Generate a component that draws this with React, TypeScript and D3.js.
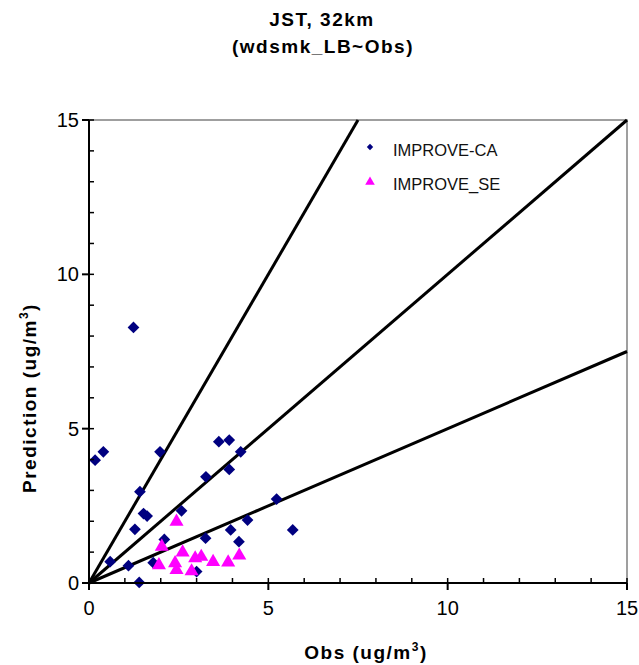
import React from "react";
import * as d3 from "d3";

// IMPROVE-CA sites: observed vs predicted (ug/m3)
const caObs = [0.17, 0.40, 1.24, 1.98, 3.62, 3.91, 4.23, 3.91, 3.26, 1.42, 1.52, 1.62, 2.58, 1.28, 2.10, 3.25, 3.95, 4.18, 4.42, 5.23, 5.68, 0.59, 1.10, 1.40, 1.79, 3.00];
const caPred = [3.98, 4.25, 8.28, 4.25, 4.58, 4.63, 4.25, 3.68, 3.44, 2.96, 2.25, 2.17, 2.34, 1.74, 1.41, 1.45, 1.72, 1.34, 2.04, 2.72, 1.72, 0.69, 0.56, 0.02, 0.66, 0.37];

// IMPROVE_SE sites
const seObs = [2.44, 2.03, 1.95, 2.40, 2.44, 2.61, 2.86, 2.96, 3.13, 3.46, 3.88, 4.19];
const sePred = [1.99, 1.18, 0.58, 0.64, 0.42, 0.99, 0.38, 0.80, 0.85, 0.68, 0.67, 0.89];

// Reference lines y = k·x (2:1, 1:1, 1:2)
const slopes = [2, 1, 0.5];

const axisMax = 15;
const majorTicks = [0, 5, 10, 15];
const minorTicks = d3.range(0, 16, 1);

const W = 639;
const H = 665;
const left = 89;
const right = 627;
const top = 120;
const bottom = 583;

const font = "Arial, 'Liberation Sans', Helvetica, sans-serif";

export default function App() {
  const x = d3.scaleLinear().domain([0, axisMax]).range([left, right]);
  const y = d3.scaleLinear().domain([0, axisMax]).range([bottom, top]);

  const diamond = d3.symbol().type(d3.symbolDiamond2).size(88)()!;
  const triangle = d3.symbol().type(d3.symbolTriangle).size(86)()!;
  const diamondSmall = d3.symbol().type(d3.symbolDiamond2).size(26)()!;
  const triangleSmall = d3.symbol().type(d3.symbolTriangle).size(40)()!;

  const lineFor = (k: number) => {
    const xEnd = Math.min(axisMax, axisMax / k);
    return d3.line<[number, number]>()
      .x((d) => x(d[0]))
      .y((d) => y(d[1]))([
      [0, 0],
      [xEnd, k * xEnd],
    ])!;
  };

  const boldText = { fontSize: 19, fontWeight: "bold" as const, letterSpacing: 1.5 };

  return (
    <svg
      width={W}
      height={H}
      style={{ position: "absolute", left: 0, top: 0, display: "block" }}
      fontFamily={font}
    >
      <rect x={0} y={0} width={W} height={H} fill="#fff" />

      {/* Title */}
      <text x={322} y={26} textAnchor="middle" {...boldText}>
        JST, 32km
      </text>
      <text x={323} y={53} textAnchor="middle" {...boldText}>
        (wdsmk_LB~Obs)
      </text>

      {/* Plot area border (top & right) */}
      <path
        d={`M${left},${top}H${right}V${bottom}`}
        fill="none"
        stroke="#808080"
        strokeWidth={1.5}
      />

      {/* Reference lines */}
      {slopes.map((k) => (
        <path key={k} d={lineFor(k)} fill="none" stroke="#000" strokeWidth={3} />
      ))}

      {/* Points */}
      {caObs.map((o, i) => (
        <path
          key={"ca" + i}
          d={diamond}
          transform={`translate(${x(o)},${y(caPred[i])})`}
          fill="#000080"
        />
      ))}
      {seObs.map((o, i) => (
        <path
          key={"se" + i}
          d={triangle}
          transform={`translate(${x(o)},${y(sePred[i])})`}
          fill="#FF00FF"
        />
      ))}

      {/* Axes */}
      <line x1={left} x2={right} y1={bottom} y2={bottom} stroke="#000" strokeWidth={2} />
      <line x1={left} x2={left} y1={top} y2={bottom} stroke="#000" strokeWidth={2} />
      {minorTicks.map((t) => (
        <g key={"m" + t}>
          <line x1={x(t)} x2={x(t)} y1={bottom} y2={bottom - 5} stroke="#000" strokeWidth={1.5} />
          <line x1={left} x2={left + 5} y1={y(t)} y2={y(t)} stroke="#000" strokeWidth={1.5} />
        </g>
      ))}
      {majorTicks.map((t) => (
        <g key={"M" + t}>
          <line x1={x(t)} x2={x(t)} y1={bottom} y2={bottom + 7} stroke="#000" strokeWidth={2} />
          <line x1={left - 7} x2={left} y1={y(t)} y2={y(t)} stroke="#000" strokeWidth={2} />
          <text x={x(t)} y={bottom + 32} textAnchor="middle" fontSize={20} fill="#000">
            {t}
          </text>
          <text x={left - 10} y={y(t) + 7} textAnchor="end" fontSize={20} fill="#000">
            {t}
          </text>
        </g>
      ))}

      {/* Axis titles */}
      <text x={366} y={659} textAnchor="middle" {...boldText}>
        Obs (ug/m<tspan dy={-8} fontSize={12}>3</tspan>
        <tspan dy={8}>)</tspan>
      </text>
      <text
        transform={`translate(36,398) rotate(-90)`}
        textAnchor="middle"
        {...boldText}
      >
        Prediction (ug/m<tspan dy={-8} fontSize={12}>3</tspan>
        <tspan dy={8}>)</tspan>
      </text>

      {/* Legend */}
      <path d={diamondSmall} transform="translate(370,147)" fill="#000080" />
      <text x={393} y={156} fontSize={16.5} fill="#111">IMPROVE-CA</text>
      <path d={triangleSmall} transform="translate(370,182)" fill="#FF00FF" />
      <text x={393} y={190} fontSize={16.5} fill="#111">IMPROVE_SE</text>
    </svg>
  );
}
